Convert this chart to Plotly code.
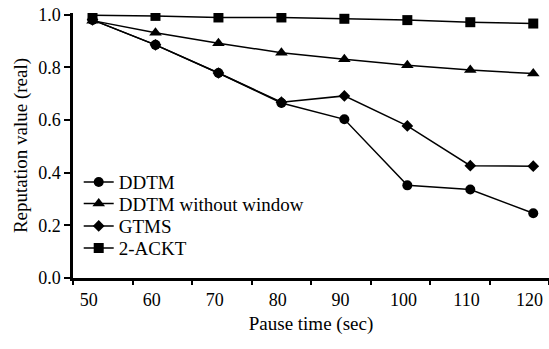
import plotly.graph_objects as go

pause_time = [50, 60, 70, 80, 90, 100, 110, 120]
ddtm = [0.981, 0.886, 0.779, 0.665, 0.603, 0.352, 0.336, 0.246]
ddtm_no_window = [0.978, 0.932, 0.892, 0.856, 0.831, 0.808, 0.790, 0.777]
gtms = [0.981, 0.886, 0.779, 0.668, 0.692, 0.578, 0.427, 0.425]
ackt = [0.998, 0.996, 0.990, 0.990, 0.985, 0.980, 0.972, 0.967]

x_tick_labels = ["50", "60", "70", "80", "90", "100", "110", "120"]
y_tick_vals = [0.0, 0.2, 0.4, 0.6, 0.8, 1.0]
y_tick_text = ["0.0", "0.2", "0.4", "0.6", "0.8", "1.0"]

FONT = "Liberation Serif"

series = [
    ("DDTM", ddtm, "circle", 10, "legend"),
    ("DDTM without window", ddtm_no_window, "triangle-up", 11, "legend2"),
    ("GTMS", gtms, "diamond", 9, "legend3"),
    ("2-ACKT", ackt, "square", 10, "legend4"),
]

fig = go.Figure()
for name, vals, sym, size, leg in series:
    fig.add_trace(go.Scatter(
        x=pause_time, y=vals, name=name, mode="lines+markers",
        line=dict(color="black", width=1.5),
        marker=dict(symbol=sym, size=size, color="black"),
        legend=leg,
    ))

# invisible trace to activate secondary x axis used only for tick marks
fig.add_trace(go.Scatter(x=[0], y=[0], xaxis="x2", mode="markers",
                         marker=dict(opacity=0), showlegend=False, hoverinfo="skip"))

leg_common = dict(x=0.012, xanchor="left", yanchor="middle",
                  bgcolor="rgba(0,0,0,0)", font=dict(family=FONT, size=19, color="black"),
                  itemsizing="trace")
legend_y = [0.362, 0.281, 0.196, 0.113]

fig.update_layout(
    width=549, height=349,
    margin=dict(l=73, r=0, t=13, b=71),
    paper_bgcolor="white", plot_bgcolor="white",
    font=dict(family=FONT, size=18, color="black"),
    showlegend=True,
    legend=dict(y=legend_y[0], **leg_common),
    legend2=dict(y=legend_y[1], **leg_common),
    legend3=dict(y=legend_y[2], **leg_common),
    legend4=dict(y=legend_y[3], **leg_common),
    xaxis=dict(
        range=[46.9, 122.5], tickmode="array",
        tickvals=[v - 0.6 for v in pause_time], ticktext=x_tick_labels,
        ticks="", showline=True, linecolor="black", linewidth=2.5,
        showgrid=False, zeroline=False, ticklabelstandoff=4,
        title=dict(text="Pause time (sec)", font=dict(size=19), standoff=8),
    ),
    xaxis2=dict(
        overlaying="x", side="bottom", range=[0, 8], tickmode="array",
        tickvals=list(range(9)), showticklabels=False,
        ticks="outside", ticklen=6, tickwidth=2, tickcolor="black",
        showline=False, showgrid=False, zeroline=False,
    ),
    yaxis=dict(
        range=[0, 1.007], tickmode="array", tickvals=y_tick_vals, ticktext=y_tick_text,
        ticks="outside", ticklen=6, tickwidth=2, tickcolor="black",
        showline=True, linecolor="black", linewidth=2.5,
        showgrid=False, zeroline=False,
        title=dict(text="Reputation value (real)", font=dict(size=19), standoff=6),
    ),
)

fig.write_html("out.html")
